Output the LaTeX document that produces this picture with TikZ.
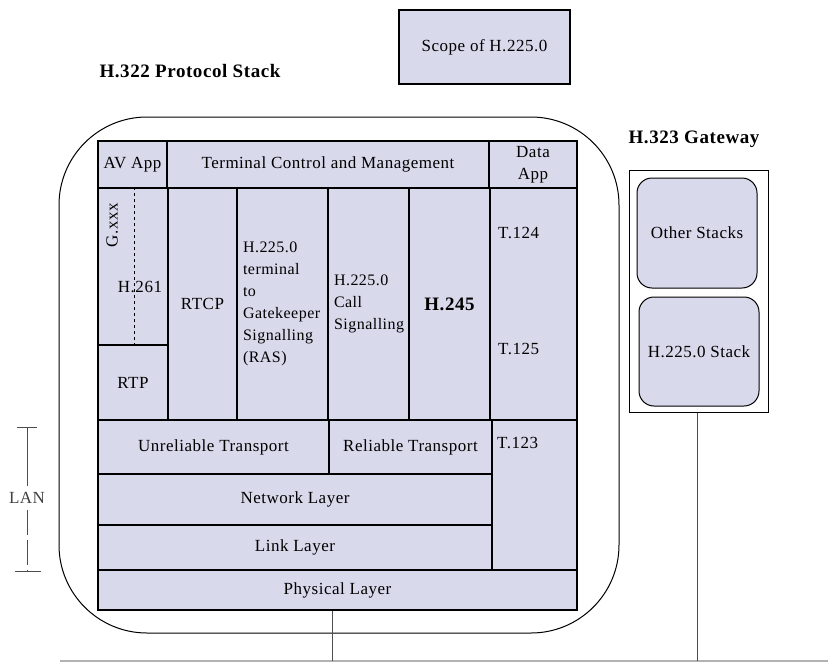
\documentclass[tikz,border=0pt]{standalone}
\usepackage{fontspec}
\setmainfont{Liberation Serif}[LetterSpace=3]
\usetikzlibrary{positioning}
\definecolor{stackfill}{RGB}{217,217,236}
\tikzset{
    layer/.style={rectangle, draw, fill=stackfill, line width=1.1pt, inner sep=0pt, align=center, font=\fontsize{17}{22}\selectfont},
    rbox/.style={rectangle, draw, fill=stackfill, rounded corners=15pt, line width=1pt, inner sep=0pt, font=\fontsize{17}{22}\selectfont},
    lbl/.style={inner sep=0pt, font=\fontsize{17}{22}\selectfont},
    heading/.style={inner sep=0pt, font=\fontsize{19}{22}\selectfont\bfseries},
    wire/.style={line width=0.6pt, black!70},
}

\begin{document}
\begin{tikzpicture}[x=1pt, y=-1pt]
    \useasboundingbox (0,0) rectangle (828,664);
    % titles
    \node[layer, minimum width=171pt, minimum height=74pt] (scope) at (484.5,47) {Scope of H.225.0};
    \node[heading] (stacktitle) at (190,71) {H.322 Protocol Stack};
    \node[heading] (gwtitle) at (694,139) {H.323 Gateway};
    % terminal stack
    \node[draw, rounded corners=88pt, line width=1pt, minimum width=560pt, minimum height=516pt] (stack) at (339,375) {};
    \node[layer, minimum width=69pt, minimum height=47pt] (avapp) at (132.5,164.5) {AV App};
    \node[layer, minimum width=322pt, minimum height=47pt] (tcm) at (328,164.5) {Terminal Control and Management};
    \node[layer, minimum width=88pt, minimum height=47pt] (dataapp) at (533,164.5) {Data\\App};
    \node[layer, minimum width=70pt, minimum height=157pt] (codec) at (133,266.5) {};
    \draw[dashed, line width=0.6pt] ([xshift=1pt]codec.north) -- ([xshift=1pt]codec.south);
    \node[lbl, rotate=90] (gxxx) at (112,225) {G.xxx};
    \node[lbl] (h261) at (140,287) {H.261};
    \node[layer, minimum width=70pt, minimum height=75pt] (rtp) at (133,382.5) {RTP};
    \node[layer, minimum width=69pt, minimum height=232pt] (rtcp) at (202.5,304) {RTCP};
    \node[layer, minimum width=91pt, minimum height=232pt, text width=79pt, align=left, font=\fontsize{16}{22}\selectfont] (ras) at (282.5,304) {H.225.0\\terminal\\to\\Gatekeeper\\Signalling\\(RAS)};
    \node[layer, minimum width=81pt, minimum height=232pt, text width=69pt, align=left, font=\fontsize{16}{22}\selectfont] (callsig) at (368.5,304) {H.225.0\\Call\\Signalling};
    \node[layer, minimum width=81pt, minimum height=232pt, font=\fontsize{19}{22}\selectfont\bfseries] (h245) at (449.5,304) {H.245};
    \node[layer, minimum width=87pt, minimum height=232pt] (tdata) at (533.5,304) {};
    \node[lbl, anchor=west] (t124) at (498,233) {T.124};
    \node[lbl, anchor=west] (t125) at (498,349) {T.125};
    \node[layer, minimum width=231pt, minimum height=54pt] (unrel) at (213.5,447) {Unreliable Transport};
    \node[layer, minimum width=163pt, minimum height=54pt] (rel) at (410.5,447) {Reliable Transport};
    \node[layer, minimum width=85pt, minimum height=150pt] (t123box) at (534.5,495) {};
    \node[lbl, anchor=west] (t123) at (497,443) {T.123};
    \node[layer, minimum width=394pt, minimum height=51pt] (net) at (295,499.5) {Network Layer};
    \node[layer, minimum width=394pt, minimum height=45pt] (link) at (295,547.5) {Link Layer};
    \node[layer, minimum width=479pt, minimum height=40pt] (phys) at (337.5,590) {Physical Layer};
    % gateway
    \node[draw, line width=1pt, minimum width=139pt, minimum height=242pt] (gw) at (698.5,291) {};
    \node[rbox, minimum width=120pt, minimum height=110pt] (other) at (697,233) {Other Stacks};
    \node[rbox, minimum width=120pt, minimum height=109pt] (h225) at (699,351.5) {H.225.0 Stack};
    % LAN
    \coordinate (busL) at (60,661);
    \coordinate (busR) at (828,661);
    \draw[line width=2pt, black!30] (busL) -- (busR);
    \draw[wire] ([xshift=-5pt]phys.south) -- ([xshift=-5pt]phys.south |- busL);
    \draw[wire] ([xshift=-1pt]gw.south) -- ([xshift=-1pt]gw.south |- busL);
    \node[lbl, text=black!75] (lan) at (27,498) {LAN};
    \coordinate (lantop) at (27,427);
    \coordinate (lanbot) at (27,571);
    \draw[wire] ([xshift=-10pt]lantop) -- ([xshift=10pt]lantop);
    \draw[wire] ([xshift=-12pt]lanbot) -- ([xshift=14pt]lanbot);
    \draw[wire] (lantop) -- ([yshift=6pt]lan.north);
    \draw[wire, dash pattern=on 25pt off 5pt] ([yshift=-6pt]lan.south) -- (lanbot);
\end{tikzpicture}
\end{document}
